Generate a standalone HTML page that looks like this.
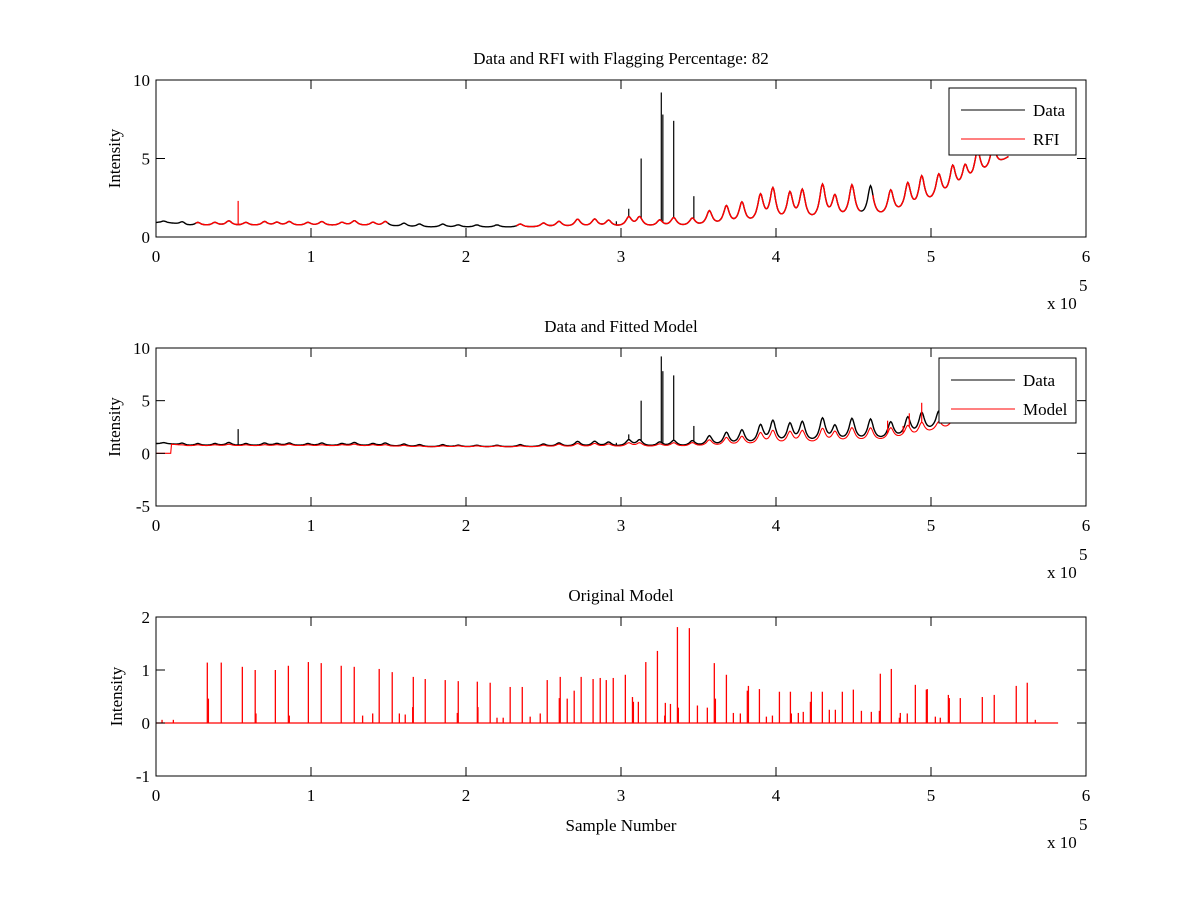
<!DOCTYPE html>
<html><head><meta charset="utf-8"><style>
html,body{margin:0;padding:0;background:#fff}
svg{display:block}
text{font-family:"Liberation Serif",serif;font-size:17px;fill:#000}
</style></head><body>
<svg id="fig" width="1200" height="900" viewBox="0 0 1200 900"></svg>
<script>
// ---- data arrays (samples in units of 1e3) ----
const baseX = [0,10,20,30,40,50,60,70,80,90,100,110,120,130,140,150,160,170,180,190,200,210,220,230,240,250,260,270,280,290,300,310,320,330,340,350,360,370,380,390,400,410,420,430,440,450,460,470,480,490,500,510,520,530,540,550];
const baseY = [0.9,0.85,0.7,0.7,0.7,0.7,0.7,0.7,0.7,0.7,0.7,0.7,0.7,0.7,0.68,0.65,0.62,0.6,0.6,0.6,0.6,0.6,0.6,0.6,0.6,0.6,0.6,0.6,0.6,0.6,0.6,0.6,0.6,0.6,0.6,0.6,0.6,0.6,0.65,0.7,0.7,0.75,0.8,0.8,0.9,1.0,1.0,1.1,1.3,1.5,1.9,2.3,2.8,3.4,4.2,5.0];
const bumpX = [5,17,27,38,47,58,70,78,86,98,107,120,128,140,148,160,170,185,195,207,220,235,250,260,272,283,292,305,312,325,334,346,357,368,378,390,398,409,417,430,438,449,461,474,485,494,505,514,522,530,540];
const bumpPeak = [1.0,0.95,0.9,0.9,1.0,0.9,0.95,0.9,0.95,0.9,0.95,0.9,1.0,0.9,0.95,0.85,0.8,0.8,0.75,0.75,0.75,0.8,0.85,0.95,1.08,1.08,1.0,1.2,1.2,1.0,1.15,1.1,1.55,1.83,2.04,2.46,2.85,2.57,2.74,3.1,2.36,3.1,3.06,2.78,3.2,3.63,3.74,4.27,4.27,5.3,5.6];
const modelPeak = [0.7,0.8,0.8,0.8,0.85,0.8,0.8,0.8,0.85,0.8,0.8,0.8,0.85,0.8,0.8,0.75,0.7,0.7,0.7,0.7,0.7,0.7,0.75,0.85,0.9,0.9,0.85,0.95,0.95,0.85,0.95,0.95,1.2,1.4,1.5,1.8,2.0,1.9,2.0,2.2,1.9,2.3,2.3,2.3,2.5,2.8,2.9,3.0,3.1,3.3,3.5];
const spikeX = [53,305,313,326,327,334,347,297];
const spikeH = [2.3,1.8,5.0,9.2,7.8,7.4,2.6,1.0];
const modelSpikeX = [472,482,486,494];
const modelSpikeH = [3.1,2.6,3.8,4.8];
const origX = [3.9,11.2,33.1,33.8,42.1,55.7,64,64.5,77,85.4,86,98.3,106.6,119.5,127.9,133.3,139.8,144,152.4,157,160.8,165.6,166,173.7,186.6,194.4,195,207.3,207.7,215.6,220,224,228.5,236.3,241.4,247.9,252.4,260.2,260.8,265.3,269.8,274.3,282,286.6,290.5,295,302.8,307.4,308,311.2,316,323.5,328.2,328.6,331.9,336.4,337,344.1,349.3,355.7,360.2,360.9,368,372.5,377,381.5,382.2,389.3,393.8,397.7,402.2,409.3,409.9,414.4,417.6,422.2,422.8,429.9,434.4,438.3,442.8,449.9,455.1,461.5,466.7,467.3,474.4,479.6,480.2,484.7,489.9,497,497.6,502.8,506,511.2,511.8,518.9,533.1,540.8,555,562.1,567.3];
const origH = [0.06,0.06,1.14,0.46,1.14,1.06,1.0,0.18,1.0,1.08,0.14,1.15,1.13,1.08,1.06,0.14,0.18,1.02,0.96,0.18,0.16,0.3,0.87,0.83,0.81,0.19,0.79,0.78,0.3,0.76,0.1,0.1,0.68,0.68,0.12,0.18,0.81,0.47,0.87,0.46,0.61,0.87,0.83,0.85,0.81,0.85,0.91,0.49,0.4,0.4,1.15,1.36,0.14,0.38,0.36,1.81,0.29,1.79,0.33,0.29,1.13,0.46,0.91,0.19,0.18,0.61,0.7,0.64,0.12,0.14,0.59,0.59,0.18,0.19,0.21,0.4,0.59,0.59,0.25,0.25,0.59,0.63,0.23,0.21,0.23,0.93,1.02,0.1,0.19,0.18,0.72,0.63,0.64,0.12,0.1,0.53,0.47,0.47,0.49,0.53,0.7,0.76,0.06];
const xTicks = [0,1,2,3,4,5,6];
const flagGaps = [[0,25],[150,232],[455,462]];

const NS='http://www.w3.org/2000/svg';
const svg=document.getElementById('fig');
function el(tag,attrs,parent){const e=document.createElementNS(NS,tag);for(const k in attrs)e.setAttribute(k,attrs[k]);(parent||svg).appendChild(e);return e;}
function baseAt(x){for(let i=0;i<baseX.length-1;i++){if(x<=baseX[i+1]){const t=(x-baseX[i])/(baseX[i+1]-baseX[i]);return baseY[i]+t*(baseY[i+1]-baseY[i]);}}return baseY[baseY.length-1];}
function curve(x,peaks){let v=baseAt(x);for(let i=0;i<bumpX.length;i++){const h=Math.max(0,peaks[i]-baseAt(bumpX[i]));const d=(x-bumpX[i])/2.3;v+=h/(1+d*d);}return v;}

const L=156,R=1086;
function sx(s){return L+(s/600)*(R-L);}
const panels=[
 {top:80,bot:237,ymin:0,ymax:10,yt:[0,5,10],title:'Data and RFI with Flagging Percentage: 82'},
 {top:348,bot:506,ymin:-5,ymax:10,yt:[-5,0,5,10],title:'Data and Fitted Model'},
 {top:617,bot:776,ymin:-1,ymax:2,yt:[-1,0,1,2],title:'Original Model'}
];
panels.forEach((p,pi)=>{
  const g=el('g',{});
  
  
  const sy=v=>p.bot-(v-p.ymin)/(p.ymax-p.ymin)*(p.bot-p.top);
  const cid='clip'+pi;
  const cp=el('clipPath',{id:cid},g);el('rect',{x:L,y:p.top,width:R-L,height:p.bot-p.top},cp);
  const data=el('g',{'clip-path':'url(#'+cid+')'},g);
  
  
  if(pi<2){
    const end = pi==0?550:517;
    let pts=[];for(let x=0;x<=end;x+=0.5)pts.push(sx(x).toFixed(1)+','+sy(curve(x,bumpPeak)).toFixed(1));
    const dl=el('polyline',{points:pts.join(' '),fill:'none',stroke:'#000','stroke-width':1.4},data);
    
    
    spikeX.forEach((x,i)=>{
      const col=(pi==0&&i==0)?'#f00':'#000';
      const s=el('line',{x1:sx(x),x2:sx(x),y1:sy(curve(x,bumpPeak)),y2:sy(spikeH[i]),stroke:col,'stroke-width':1.2},data);
      
      
    });
    if(pi==0){
      let segs=[];let cur=[];
      for(let x=0;x<=end;x+=0.5){
        const inGap=flagGaps.some(g=>x>=g[0]&&x<=g[1]);
        if(inGap){if(cur.length)segs.push(cur);cur=[];}
        else cur.push(sx(x).toFixed(1)+','+sy(curve(x,bumpPeak)).toFixed(1));
      }
      if(cur.length)segs.push(cur);
      segs.forEach(s=>{const r=el('polyline',{points:s.join(' '),fill:'none',stroke:'#f00','stroke-width':1.4},data);
        
        });
    } else {
      let pts2=[];
      for(let x=0;x<=end;x+=0.5){const v=x<10?0:curve(x,modelPeak);pts2.push(sx(x).toFixed(1)+','+sy(v).toFixed(1));}
      const ml=el('polyline',{points:pts2.join(' '),fill:'none',stroke:'#f00','stroke-width':1.1},data);
      
      
      modelSpikeX.forEach((x,i)=>{const s=el('line',{x1:sx(x),x2:sx(x),y1:sy(curve(x,modelPeak)),y2:sy(modelSpikeH[i]),stroke:'#f00','stroke-width':1.2},data);
        
        });
    }
  } else {
    const bl=el('line',{x1:sx(0),x2:sx(582),y1:sy(0),y2:sy(0),stroke:'#f00','stroke-width':1.2},data);
    
    
    origX.forEach((x,i)=>{const s=el('line',{x1:sx(x),x2:sx(x),y1:sy(0),y2:sy(origH[i]),stroke:'#f00','stroke-width':1.3},data);
      
      });
  }
  const box=el('rect',{x:L,y:p.top,width:R-L,height:p.bot-p.top,fill:'none',stroke:'#000','stroke-width':1},g);
  
  
  xTicks.forEach(t=>{
    const x=sx(t*100);
    el('line',{x1:x,x2:x,y1:p.bot,y2:p.bot-9,stroke:'#000'},g);
    el('line',{x1:x,x2:x,y1:p.top,y2:p.top+9,stroke:'#000'},g);
    const tl=el('text',{x:x,y:p.bot+25,'text-anchor':'middle'},g);tl.textContent=t;
    
    
  });
  p.yt.forEach(t=>{
    const y=sy(t);
    el('line',{x1:L,x2:L+9,y1:y,y2:y,stroke:'#000'},g);
    el('line',{x1:R,x2:R-9,y1:y,y2:y,stroke:'#000'},g);
    const tl=el('text',{x:L-6,y:y+6,'text-anchor':'end'},g);tl.textContent=t;
    
    
  });
  const yl=el('text',{x:0,y:0,'text-anchor':'middle',transform:`translate(${pi==2?122:120},${(p.top+p.bot)/2}) rotate(-90)`},g);yl.textContent='Intensity';
  
  
  const tt=el('text',{x:621,y:p.top-16,'text-anchor':'middle'},g);tt.textContent=p.title;
  
  
  const ex=el('text',{x:1047,y:p.bot+72},g);ex.textContent='x 10';
  
  
  const ex5=el('text',{x:1079,y:p.bot+54,'font-size':'12'},g);ex5.textContent='5';
  
  
  if(pi<2){
    const lx=pi==0?949:939, ly=pi==0?88:358, lw=R-10-lx, lh=pi==0?67:65;
    const lg=el('g',{},g);
    
    
    el('rect',{x:lx,y:ly,width:lw,height:lh,fill:'#fff',stroke:'#000'},lg);
    const names=pi==0?['Data','RFI']:['Data','Model'];
    names.forEach((n,i)=>{
      const yy=ly+22+i*29;
      el('line',{x1:lx+12,x2:lx+76,y1:yy,y2:yy,stroke:i?'#f00':'#000'},lg);
      const t=el('text',{x:lx+84,y:yy+6},lg);t.textContent=n;
      
      
    });
  }
});
const xl=el('text',{x:621,y:831,'text-anchor':'middle'});xl.textContent='Sample Number';


</script>
</body></html>
